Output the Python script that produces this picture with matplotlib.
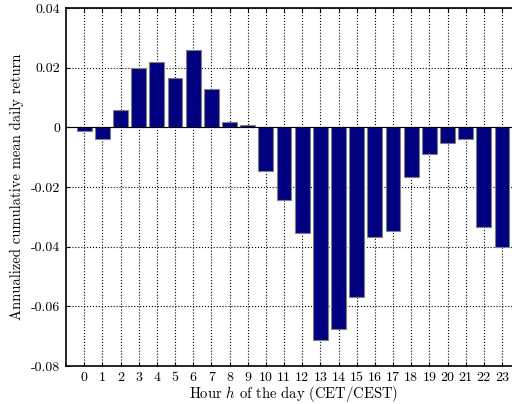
import numpy as np
import matplotlib
matplotlib.use('Agg')
import matplotlib.pyplot as plt

plt.rcParams['font.family'] = 'serif'
plt.rcParams['font.serif'] = ['cmr10']
plt.rcParams['mathtext.fontset'] = 'cm'
plt.rcParams['axes.unicode_minus'] = False

hours = np.arange(24)
returns = [-0.0012, -0.0038, 0.0059, 0.0200, 0.0219, 0.0165, 0.0261, 0.0130,
           0.0017, 0.0009, -0.0147, -0.0245, -0.0355, -0.0714, -0.0676, -0.0568,
           -0.0366, -0.0348, -0.0166, -0.0089, -0.0053, -0.0040, -0.0335, -0.0401]
yticks = [-0.08, -0.06, -0.04, -0.02, 0, 0.02, 0.04]
ytick_labels = ['-0.08', '-0.06', '-0.04', '-0.02', '0', '0.02', '0.04']

fig = plt.figure(figsize=(5.12, 4.04), dpi=100)
ax = fig.add_axes([0.129, 0.094, 0.887, 0.886])

ax.bar(hours, returns, width=0.82, color='#000080', edgecolor='#808080', linewidth=0.8, zorder=2)
ax.axhline(0, color='black', linewidth=0.8, zorder=3)

ax.set_xlim(-1, 24)
ax.set_ylim(-0.08, 0.04)
ax.set_xticks(hours)
ax.set_xticklabels([str(h) for h in hours], fontsize=10)
ax.set_yticks(yticks)
ax.set_yticklabels(ytick_labels, fontsize=10)
ax.grid(True, linestyle=':', color='black', linewidth=0.8, zorder=0)
ax.set_axisbelow(True)
ax.tick_params(direction='in', length=3, top=True, right=False, width=0.8, pad=4)

for s in ax.spines.values():
    s.set_linewidth(1.2)

ax.set_xlabel(r'Hour $h$ of the day (CET/CEST)', fontsize=10.5, labelpad=0)
ax.set_ylabel('Annualized cumulative mean daily return', fontsize=10.5, labelpad=5)

fig.savefig('out.png', dpi=100)
